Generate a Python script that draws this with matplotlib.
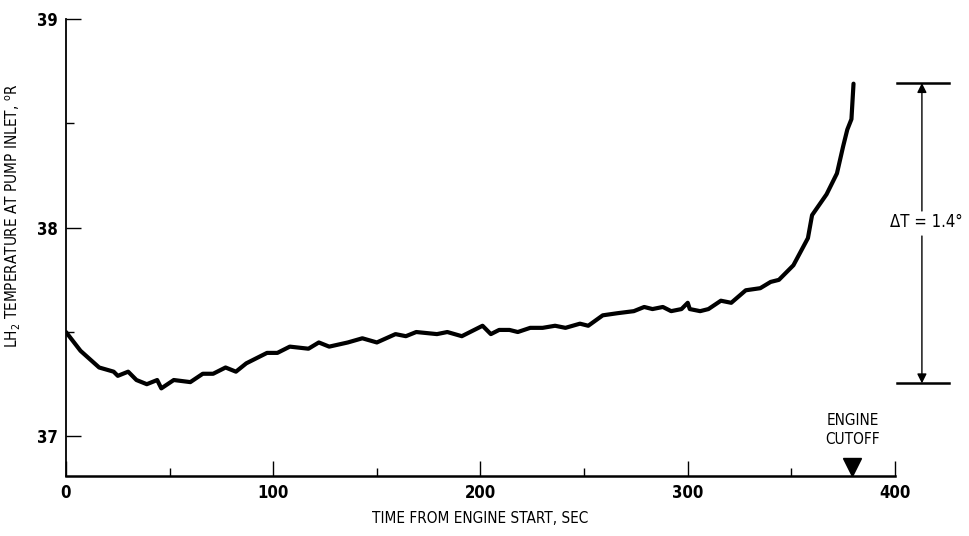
import numpy as np
import matplotlib
matplotlib.use('Agg')
import matplotlib.pyplot as plt
from matplotlib.ticker import MultipleLocator

# values
time_s = [0, 7, 16, 23, 25, 30, 34, 39, 44, 46, 52, 60, 66, 71, 77, 82, 87, 97, 102,
          108, 117, 122, 127, 136, 143, 150, 159, 164, 169, 179, 184, 191, 195, 201,
          205, 209, 214, 218, 224, 230, 236, 241, 248, 252, 259, 266, 274, 279, 283,
          288, 292, 297, 300, 301, 306, 310, 316, 321, 328, 335, 340, 344, 349, 351,
          358, 360, 367, 372, 375, 377, 379, 380]
temp_R = [37.50, 37.41, 37.33, 37.31, 37.29, 37.31, 37.27, 37.25, 37.27, 37.23, 37.27,
          37.26, 37.30, 37.30, 37.33, 37.31, 37.35, 37.40, 37.40, 37.43, 37.42, 37.45,
          37.43, 37.45, 37.47, 37.45, 37.49, 37.48, 37.50, 37.49, 37.50, 37.48, 37.50,
          37.53, 37.49, 37.51, 37.51, 37.50, 37.52, 37.52, 37.53, 37.52, 37.54, 37.53,
          37.58, 37.59, 37.60, 37.62, 37.61, 37.62, 37.60, 37.61, 37.64, 37.61, 37.60,
          37.61, 37.65, 37.64, 37.70, 37.71, 37.74, 37.75, 37.80, 37.82, 37.95, 38.06,
          38.16, 38.26, 38.39, 38.47, 38.52, 38.69]

cutoff_time = 379.5
dT_low, dT_high = 37.254, 38.693
dT_label = "\u0394T = 1.4\u00b0"

plt.rcParams['font.family'] = ['DejaVu Sans']
plt.rcParams['font.stretch'] = 'condensed'
plt.rcParams['mathtext.fontset'] = 'dejavusans'

fig = plt.figure(figsize=(9.69, 5.36), dpi=100)
ax = fig.add_axes([0.0681, 0.1119, 0.8555, 0.8527])

ax.plot(time_s, temp_R, color='black', lw=3.0, solid_capstyle='round',
        solid_joinstyle='round')

ax.set_xlim(0, 400)
ax.set_ylim(36.81, 39.0)
ax.xaxis.set_major_locator(MultipleLocator(100))
ax.xaxis.set_minor_locator(MultipleLocator(50))
ax.yaxis.set_major_locator(MultipleLocator(1))
ax.yaxis.set_minor_locator(MultipleLocator(0.5))
ax.tick_params(which='major', direction='in', length=11, width=1.0, labelsize=12, pad=6)
ax.tick_params(which='minor', direction='in', length=6, width=1.0)
for lab in ax.get_xticklabels() + ax.get_yticklabels():
    lab.set_fontweight('bold')

for side in ['top', 'right']:
    ax.spines[side].set_visible(False)
ax.spines['left'].set_linewidth(1.3)
ax.spines['bottom'].set_linewidth(1.8)

ax.set_xlabel('TIME FROM ENGINE START, SEC', fontsize=11, labelpad=6)
ax.set_ylabel(r'LH$_2$ TEMPERATURE AT PUMP INLET, $^{\rm o}$R', fontsize=11, labelpad=10)
ax.yaxis.set_label_coords(-0.052, 0.57)

# engine cutoff marker
ax.plot([cutoff_time], [36.855], marker='v', color='black', markersize=13, clip_on=False)
ax.text(cutoff_time, 36.95, 'ENGINE\nCUTOFF', ha='center', va='bottom', fontsize=11,
        linespacing=1.3)

# delta T bracket
xb = 413
ax.plot([401, 426], [dT_high, dT_high], color='black', lw=1.8, clip_on=False)
ax.plot([401, 426], [dT_low, dT_low], color='black', lw=1.8, clip_on=False)
ax.annotate('', xy=(xb, dT_high), xytext=(xb, 38.08), annotation_clip=False,
            arrowprops=dict(arrowstyle='-|>', color='black', lw=1.0, mutation_scale=14,
                            shrinkA=0, shrinkB=0))
ax.annotate('', xy=(xb, dT_low), xytext=(xb, 37.96), annotation_clip=False,
            arrowprops=dict(arrowstyle='-|>', color='black', lw=1.0, mutation_scale=14,
                            shrinkA=0, shrinkB=0))
ax.text(xb + 2, 38.025, dT_label, ha='center', va='center', fontsize=12)

fig.savefig('out.png', dpi=100)
